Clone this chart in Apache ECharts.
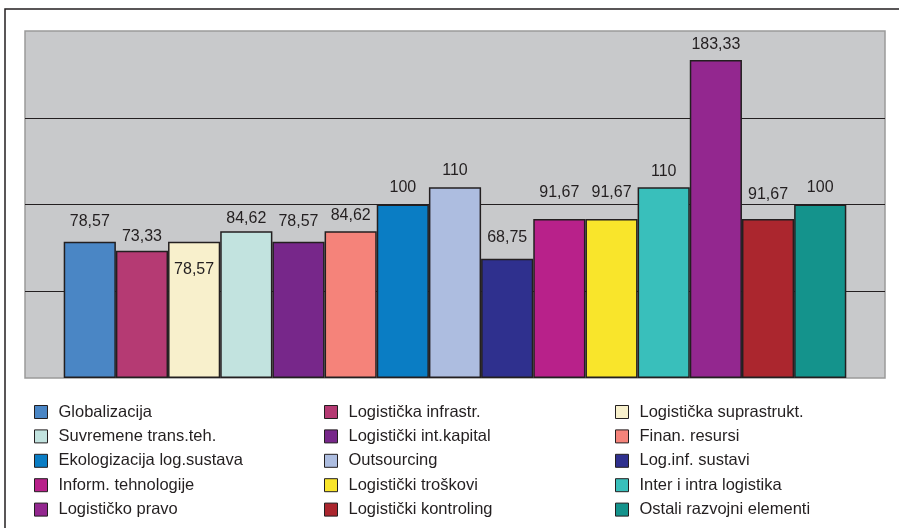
<!DOCTYPE html>
<html>
<head>
<meta charset="utf-8">
<script src="https://cdn.jsdelivr.net/npm/echarts@6/dist/echarts.min.js"></script>
<style>
	html, body { margin: 0; padding: 0; background: #fff; }
	#chart { width: 899px; height: 528px; }
</style>
</head>
<body>
<div id="chart"></div>
<script>
'use strict';

var names = [
	'Globalizacija', 'Logistička infrastr.', 'Logistička suprastrukt.',
	'Suvremene trans.teh.', 'Logistički int.kapital', 'Finan. resursi',
	'Ekologizacija log.sustava', 'Outsourcing', 'Log.inf. sustavi',
	'Inform. tehnologije', 'Logistički troškovi', 'Inter i intra logistika',
	'Logističko pravo', 'Logistički kontroling', 'Ostali razvojni elementi'
];
var values = [78.57, 73.33, 78.57, 84.62, 78.57, 84.62, 100, 110, 68.75, 91.67, 91.67, 110, 183.33, 91.67, 100];

var colors = [
	'#4a86c5', '#b53a73', '#f8f0cc', '#c2e3df', '#77278a', '#f5837a', '#0a7dc4', '#adbde0',
	'#2f308e', '#b8218a', '#f9e52b', '#39bfbb', '#93278f', '#ab262e', '#14938c'
];
// label offsets as seen in the original (not all equal)
var labelGap = [12, 6, 20, 5, 12, 8, 8.5, 9, 13, 18, 18, 7.5, 7, 16, 8.5];

var font = 'Liberation Sans, Arial, sans-serif';
var ink = '#231f20';

var series = [];
for (var i = 0; i < names.length; i++) {
	series.push({
		name: names[i],
		type: 'bar',
		data: [values[i]],
		barGap: '0%',
		barCategoryGap: '9%',
		itemStyle: {
			color: colors[i],
			borderColor: ink,
			borderWidth: 1.5
		},
		label: {
			show: true,
			position: i === 2 ? 'insideTop' : 'top',
			distance: labelGap[i],
			color: ink,
			fontSize: 16,
			fontFamily: font,
			formatter: function (p) {
				return String(p.value).replace('.', ',');
			}
		}
	});
}

function legendCol(start, left) {
	var data = [];
	for (var k = start; k < names.length; k += 3) {
		data.push(names[k]);
	}
	return {
		data: data,
		orient: 'vertical',
		left: left,
		top: 402,
		padding: 0,
		itemWidth: 13,
		itemHeight: 13,
		itemGap: 4.4,
		icon: 'rect',
		selectedMode: false,
		itemStyle: { borderColor: ink, borderWidth: 1 },
		textStyle: {
			color: ink,
			fontSize: 16.5,
			fontFamily: font,
			lineHeight: 20,
			padding: [0, 0, 0, 6]
		}
	};
}

var chart = echarts.init(document.getElementById('chart'));
chart.setOption({
	animation: false,
	backgroundColor: '#fff',
	graphic: [{
		type: 'polyline',
		shape: { points: [[5, 528], [5, 9], [899, 9]] },
		style: { fill: 'none', stroke: ink, lineWidth: 1.5 },
		silent: true
	}],
	grid: {
		left: 25,
		top: 31,
		right: 14,
		bottom: 150,
		show: true,
		backgroundColor: '#c8c9cb',
		borderColor: '#9a9a9a',
		borderWidth: 1.5
	},
	legend: [legendCol(0, 34), legendCol(1, 324), legendCol(2, 615)],
	xAxis: {
		type: 'category',
		data: [''],
		axisLine: { show: false },
		axisTick: { show: false },
		axisLabel: { show: false }
	},
	yAxis: {
		type: 'value',
		min: 0,
		max: 200,
		interval: 50,
		axisLine: { show: false },
		axisTick: { show: false },
		axisLabel: { show: false },
		splitLine: {
			show: true,
			showMinLine: false,
			showMaxLine: false,
			lineStyle: { color: ink, width: 1.2 }
		}
	},
	series: series
});
</script>
</body>
</html>
